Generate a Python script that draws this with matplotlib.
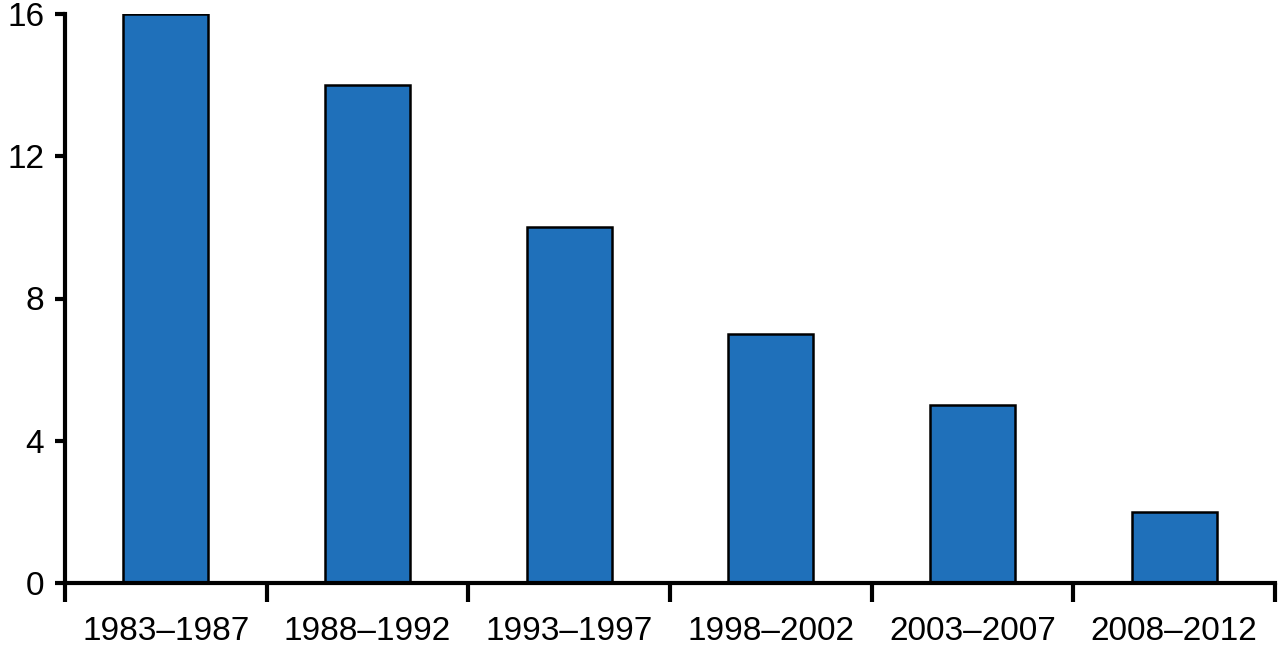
import matplotlib.pyplot as plt
import numpy as np

periods = ["1983–1987", "1988–1992", "1993–1997", "1998–2002", "2003–2007", "2008–2012"]
values = [16, 14, 10, 7, 5, 2]
y_ticks = [0, 4, 8, 12, 16]

plt.rcParams['font.family'] = ['Liberation Sans', 'DejaVu Sans']

fig = plt.figure(figsize=(12.8, 6.49), dpi=100)
ax = fig.add_axes([65 / 1280, 66 / 649, 1210 / 1280, 569 / 649])

x = np.arange(len(periods))
ax.bar(x, values, width=0.42, color='#1f70ba', edgecolor='black', linewidth=1.8, zorder=2)

ax.set_xlim(-0.5, len(periods) - 0.5)
ax.set_ylim(0, 16)
ax.set_yticks(y_ticks)
ax.set_yticklabels([str(v) for v in y_ticks])

# labels centred under bars, tick marks at the boundaries between periods
ax.set_xticks(x)
ax.set_xticklabels(periods)
ax.set_xticks(np.arange(-0.5, len(periods)), minor=True)
ax.tick_params(axis='x', which='major', length=0, pad=24, labelsize=24)
ax.tick_params(axis='x', which='minor', length=14, width=3, direction='out')
ax.tick_params(axis='y', length=7, width=3, pad=8, labelsize=24)

for s in ['top', 'right']:
    ax.spines[s].set_visible(False)
for s in ['left', 'bottom']:
    ax.spines[s].set_linewidth(3)
ax.spines['left'].set_capstyle('projecting')

fig.savefig('out.png', dpi=100)
